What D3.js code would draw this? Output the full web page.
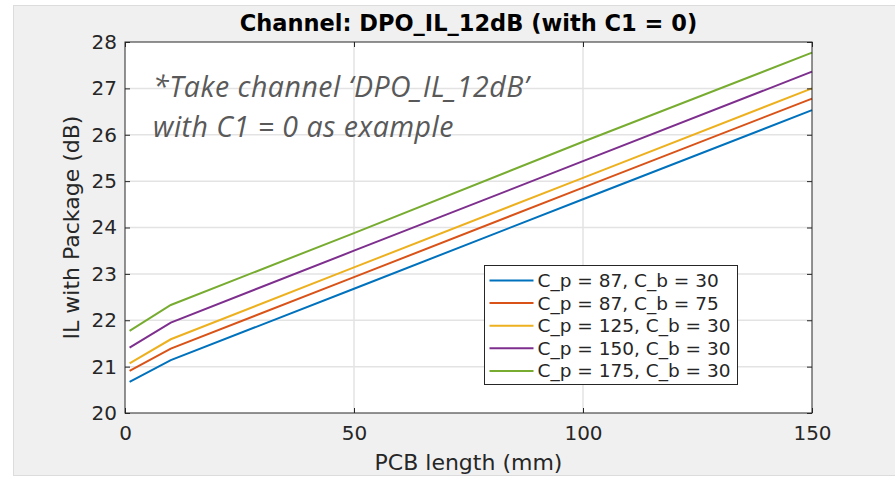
<!DOCTYPE html>
<html>
<head>
<meta charset="utf-8">
<script src="https://cdn.jsdelivr.net/npm/d3@7"></script>
<style>
  body { margin: 0; background: #fff; }
  svg { display: block; }
</style>
</head>
<body>
<div id="viz"></div>
<script>
// PCB length (mm) sample points
var pcbLength = [1, 10, 50, 100, 150];

// IL with package (dB) per configuration
var seriesNames = ['C_p = 87, C_b = 30', 'C_p = 87, C_b = 75', 'C_p = 125, C_b = 30',
  'C_p = 150, C_b = 30', 'C_p = 175, C_b = 30'];
var ilCp87Cb30 = [20.67, 21.14, 22.68, 24.61, 26.53];
var ilCp87Cb75 = [20.91, 21.39, 22.93, 24.86, 26.78];
var ilCp125Cb30 = [21.07, 21.59, 23.14, 25.07, 27.00];
var ilCp150Cb30 = [21.41, 21.95, 23.50, 25.43, 27.36];
var ilCp175Cb30 = [21.77, 22.33, 23.88, 25.85, 27.77];
var seriesValues = [ilCp87Cb30, ilCp87Cb75, ilCp125Cb30, ilCp150Cb30, ilCp175Cb30];

var xTicks = [0, 50, 100, 150];
var yTicks = [20, 21, 22, 23, 24, 25, 26, 27, 28];
var colors = ['#0072BD', '#D95319', '#EDB120', '#7E2F8E', '#77AC30'];

var width = 895, height = 477;
var plotL = 125, plotR = 812, plotT = 42, plotB = 413;
var tickColor = '#262626';

var svg = d3.select('#viz').append('svg')
  .attr('width', width)
  .attr('height', height)
  .style('font-family', 'DejaVu Sans, sans-serif');

// figure panel
svg.append('rect')
  .attr('x', 13.5).attr('y', 5.5)
  .attr('width', width).attr('height', 470)
  .style('fill', '#f0f0f0')
  .style('stroke', '#dcdcdc');

var x = d3.scaleLinear().domain([0, 150]).range([plotL, plotR]);
var y = d3.scaleLinear().domain([20, 28]).range([plotB, plotT]);

svg.append('rect')
  .attr('x', plotL).attr('y', plotT)
  .attr('width', plotR - plotL).attr('height', plotB - plotT)
  .style('fill', '#fff');

// grid
var grid = svg.append('g');
grid.selectAll('.gx').data(xTicks.slice(1, -1)).enter().append('line')
  .attr('x1', function(d) { return x(d); })
  .attr('x2', function(d) { return x(d); })
  .attr('y1', plotT).attr('y2', plotB)
  .style('stroke', '#e3e3e3').style('stroke-width', 1.5);
grid.selectAll('.gy').data(yTicks.slice(1, -1)).enter().append('line')
  .attr('y1', function(d) { return y(d); })
  .attr('y2', function(d) { return y(d); })
  .attr('x1', plotL).attr('x2', plotR)
  .style('stroke', '#e3e3e3').style('stroke-width', 1.5);

// annotation
var note = svg.append('text')
  .style('font-family', 'Open Sans, sans-serif')
  .style('font-style', 'italic')
  .style('font-size', '28.5px')
  .style('letter-spacing', '0.5px')
  .style('fill', '#595959');
note.append('tspan').attr('x', 153).attr('y', 97).text('*Take channel \u2018DPO_IL_12dB\u2019');
note.append('tspan').attr('x', 153).attr('y', 137).text('with C1 = 0 as example');

// lines
var line = d3.line()
  .x(function(d, i) { return x(pcbLength[i]); })
  .y(function(d) { return y(d); });

svg.selectAll('.series').data(seriesValues).enter().append('path')
  .attr('d', line)
  .style('fill', 'none')
  .style('stroke', function(d, i) { return colors[i]; })
  .style('stroke-width', 2);

// axes
function styleAxis(g) {
  g.select('.domain').remove();
  g.selectAll('line').style('stroke', tickColor);
  g.selectAll('text').style('font-size', '20px').style('fill', tickColor)
    .style('font-family', 'DejaVu Sans, sans-serif');
}
svg.append('g')
  .attr('transform', 'translate(0,' + plotB + ')')
  .call(d3.axisBottom(x).tickValues(xTicks).tickSizeInner(-5).tickSizeOuter(0).tickPadding(13))
  .call(styleAxis);
svg.append('g')
  .attr('transform', 'translate(0,' + plotT + ')')
  .call(d3.axisTop(x).tickValues(xTicks).tickSizeInner(-5).tickSizeOuter(0).tickFormat(''))
  .call(styleAxis);
svg.append('g')
  .attr('transform', 'translate(' + plotL + ',0)')
  .call(d3.axisLeft(y).tickValues(yTicks).tickSizeInner(-5).tickSizeOuter(0).tickPadding(8))
  .call(styleAxis);
svg.append('g')
  .attr('transform', 'translate(' + plotR + ',0)')
  .call(d3.axisRight(y).tickValues(yTicks).tickSizeInner(-5).tickSizeOuter(0).tickFormat(''))
  .call(styleAxis);

svg.append('rect')
  .attr('x', plotL).attr('y', plotT)
  .attr('width', plotR - plotL).attr('height', plotB - plotT)
  .style('fill', 'none')
  .style('stroke', tickColor)
  .style('stroke-width', 1);

// legend
var legend = svg.append('g').attr('transform', 'translate(484.5,265.5)');
legend.append('rect')
  .attr('width', 253).attr('height', 119)
  .style('fill', '#fff')
  .style('stroke', tickColor);
var item = legend.selectAll('.item').data(seriesNames).enter().append('g')
  .attr('transform', function(d, i) { return 'translate(0,' + (15 + i * 22.6) + ')'; });
item.append('line')
  .attr('x1', 5).attr('x2', 49)
  .style('stroke', function(d, i) { return colors[i]; })
  .style('stroke-width', 2);
item.append('text')
  .attr('x', 53).attr('dy', '0.35em')
  .style('font-size', '18.5px')
  .style('fill', tickColor)
  .text(function(d) { return d; });

// titles
svg.append('text')
  .attr('x', (plotL + plotR) / 2).attr('y', 31)
  .attr('text-anchor', 'middle')
  .style('font-size', '22.5px').style('font-weight', 'bold').style('fill', '#000')
  .text('Channel: DPO_IL_12dB (with C1 = 0)');
svg.append('text')
  .attr('x', (plotL + plotR) / 2).attr('y', 470)
  .attr('text-anchor', 'middle')
  .style('font-size', '22px').style('fill', tickColor)
  .text('PCB length (mm)');
svg.append('text')
  .attr('transform', 'translate(79,' + (plotT + plotB) / 2 + ') rotate(-90)')
  .attr('text-anchor', 'middle')
  .style('font-size', '22px').style('fill', tickColor)
  .text('IL with Package (dB)');
</script>
</body>
</html>
